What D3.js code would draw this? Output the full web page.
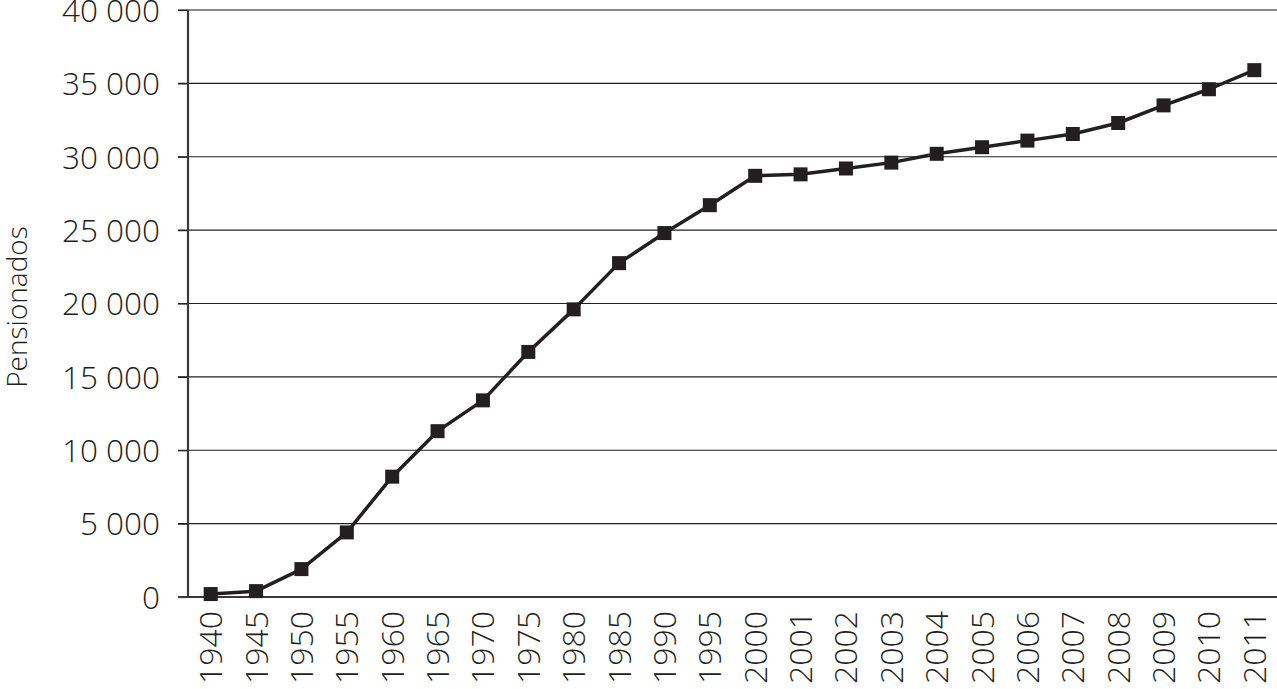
<!DOCTYPE html>
<html><head><meta charset="utf-8">
<script src="https://cdn.jsdelivr.net/npm/d3@7"></script>
<style>body{margin:0;background:#fff}svg{display:block}text{font-family:"Open Sans",Lato,sans-serif;font-weight:300;fill:#231f20}</style>
</head><body>
<svg id="c" width="1277" height="689"></svg>
<script>
const years = ["1940","1945","1950","1955","1960","1965","1970","1975","1980","1985","1990","1995","2000","2001","2002","2003","2004","2005","2006","2007","2008","2009","2010","2011"];
const pensionados = [200,400,1900,4400,8200,11300,13400,16700,19600,22750,24800,26700,28700,28800,29200,29600,30200,30650,31100,31550,32300,33500,34600,35900];
const yTicks = [0,5000,10000,15000,20000,25000,30000,35000,40000];
const yLabel = "Pensionados";

const svg = d3.select("#c");
const L = 188, R = 1277, T = 10, B = 597;
const FF = "'Open Sans',Lato,sans-serif";
const x = d3.scaleBand().domain(years).range([L, R]);
const y = d3.scaleLinear().domain([0, 40000]).range([B, T]);
const fmt = v => d3.format(",")(v).replace(/,/g, " ");

// gridlines
svg.append("g").selectAll("line").data(yTicks.filter(d => d > 0)).join("line")
  .attr("x1", L - 10).attr("x2", R).attr("y1", d => y(d)).attr("y2", d => y(d))
  .attr("stroke", d => d === 40000 ? "#888" : "#231f20").attr("stroke-width", d => d === 40000 ? 2 : 1.2);

// y axis
const ya = svg.append("g").attr("transform", `translate(${L},0)`)
  .call(d3.axisLeft(y).tickValues(yTicks).tickFormat(fmt).tickSize(10).tickPadding(18));
ya.select(".domain").remove();
ya.selectAll(".tick line").attr("stroke", "#231f20").attr("stroke-width", 1.2);
ya.selectAll("text").attr("font-size", 31.5).style("font-family", FF).style("font-weight", 300).attr("fill", "#231f20").attr("dy", "0.36em");
svg.append("line").attr("x1", L).attr("x2", L).attr("y1", T).attr("y2", B + 1)
  .attr("stroke", "#3a3a3a").attr("stroke-width", 2.2);

// x axis
const xa = svg.append("g").attr("transform", `translate(0,${B})`)
  .call(d3.axisBottom(x).tickSize(0).tickPadding(0));
xa.select(".domain").remove();
svg.append("line").attr("x1", L - 10).attr("x2", R).attr("y1", B).attr("y2", B)
  .attr("stroke", "#3a3a3a").attr("stroke-width", 2.2);
xa.selectAll("text").attr("font-size", 32).style("font-family", FF).style("font-weight", 300).attr("fill", "#231f20")
  .attr("transform", "rotate(-90)").attr("text-anchor", "end").attr("y", 0).attr("dy", "0.36em")
  .attr("x", -14);

// y label
svg.append("text").attr("transform", `translate(27,${307}) rotate(-90)`).attr("text-anchor", "middle")
  .attr("font-size", 28).text(yLabel);

// line
const cx = d => x(d) + x.bandwidth() / 2;
svg.append("path").datum(years.map((d, i) => [d, pensionados[i]]))
  .attr("fill", "none").attr("stroke", "#231f20").attr("stroke-width", 3.5).attr("stroke-linejoin", "round")
  .attr("d", d3.line().x(d => cx(d[0])).y(d => y(d[1])));
svg.append("g").selectAll("rect").data(years.map((d, i) => [d, pensionados[i]])).join("rect")
  .attr("x", d => cx(d[0]) - 7).attr("y", d => y(d[1]) - 7).attr("width", 14).attr("height", 14)
  .attr("fill", "#231f20");
</script>
</body></html>
